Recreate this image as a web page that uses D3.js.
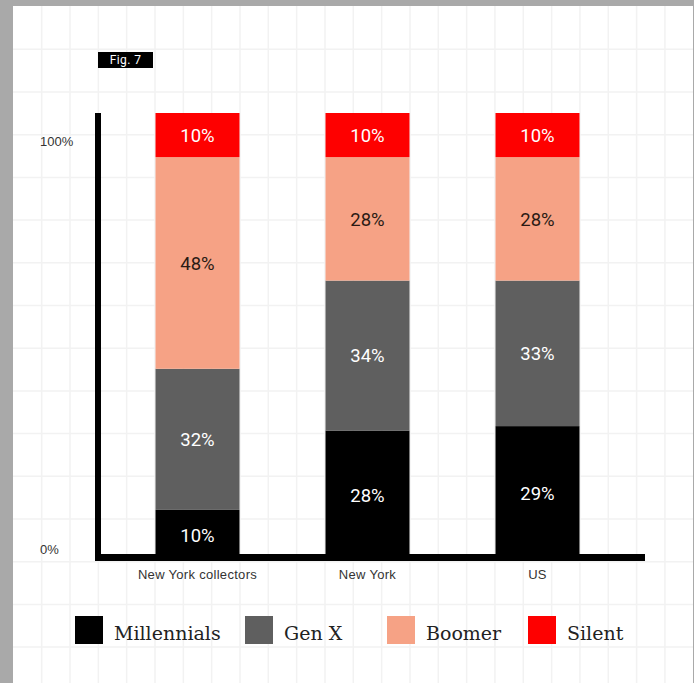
<!DOCTYPE html>
<html><head><meta charset="utf-8">
<script src="https://cdn.jsdelivr.net/npm/d3@7"></script>
<style>html,body{margin:0;padding:0;background:#a9a9a9;}svg{display:block;}</style>
</head><body>
<script>
// ---- data ----
const categories = ["New York collectors", "New York", "US"];
const seriesNames = ["Millennials", "Gen X", "Boomer", "Silent"];
const millennials = [10, 28, 29];
const genX = [32, 34, 33];
const boomer = [48, 28, 28];
const silent = [10, 10, 10];
const yTickLabels = ["0%", "100%"];
const figLabel = "Fig. 7";

// ---- style ----
const colors = ["#000000", "#5f5f5f", "#f6a285", "#fe0000"];
const labelColors = ["#ffffff", "#ffffff", "#2a1a14", "#ffffff"];
const W = 694, H = 683;

const svg = d3.select("body").append("svg").attr("width", W).attr("height", H);
svg.append("rect").attr("x", 0).attr("y", 0).attr("width", W).attr("height", H).attr("fill", "#a9a9a9");
svg.append("rect").attr("x", 13).attr("y", 6).attr("width", 680).attr("height", 677).attr("fill", "#ffffff");

// grid
const grid = svg.append("g").attr("stroke", "#f2f2f2").attr("stroke-width", 1.5);
for (let x = 13.35 + 28.33; x < 693; x += 28.33) grid.append("line").attr("x1", x).attr("x2", x).attr("y1", 6).attr("y2", 683);
for (let y = 6.6 + 42.7; y < 683; y += 42.7) grid.append("line").attr("x1", 13).attr("x2", 693).attr("y1", y).attr("y2", y);

// scales
const y = d3.scaleLinear().domain([0, 100]).range([554, 113]);
const x = d3.scalePoint().domain(categories).range([197.5, 537.5]);
const barW = 84;

const table = categories.map((c, i) => ({cat: c, Millennials: millennials[i], "Gen X": genX[i], Boomer: boomer[i], Silent: silent[i]}));
const stacked = d3.stack().keys(seriesNames)(table);

const g = svg.append("g");
stacked.forEach((layer, si) => {
  layer.forEach(d => {
    g.append("rect")
      .attr("x", x(d.data.cat) - barW / 2)
      .attr("y", y(d[1]))
      .attr("width", barW)
      .attr("height", y(d[0]) - y(d[1]))
      .attr("fill", colors[si]);
    g.append("text")
      .attr("x", x(d.data.cat))
      .attr("y", (y(d[0]) + y(d[1])) / 2 + (si === 0 ? 3 : 0))
      .attr("dy", "0.36em")
      .attr("text-anchor", "middle")
      .attr("font-family", "Roboto, 'Liberation Sans', Arial, sans-serif")
      .attr("font-size", 18.5)
      .attr("fill", labelColors[si])
      .text((d[1] - d[0]) + "%");
  });
});

// axes (thick black lines)
svg.append("rect").attr("x", 95).attr("y", 113).attr("width", 6).attr("height", 561 - 113).attr("fill", "#000");
svg.append("rect").attr("x", 95).attr("y", 554).attr("width", 645 - 95).attr("height", 7).attr("fill", "#000");

// y labels
const yLabelPos = [549, 141];
yTickLabels.forEach((t, i) => {
  svg.append("text").attr("x", 40).attr("y", yLabelPos[i]).attr("dy", "0.35em")
    .attr("font-family", "'Liberation Sans', Arial, sans-serif").attr("font-size", 13)
    .attr("fill", "#333").text(t);
});

// x labels
categories.forEach(c => {
  svg.append("text").attr("x", x(c)).attr("y", 574).attr("dy", "0.35em")
    .attr("text-anchor", "middle")
    .attr("font-family", "'Liberation Sans', Arial, sans-serif").attr("font-size", 13)
    .attr("letter-spacing", 0.3)
    .attr("fill", "#333").text(c);
});

// fig label
svg.append("rect").attr("x", 98).attr("y", 52).attr("width", 55).attr("height", 16).attr("fill", "#000");
svg.append("text").attr("x", 125.5).attr("y", 60).attr("dy", "0.35em").attr("text-anchor", "middle")
  .attr("font-family", "Roboto, 'Liberation Sans', Arial, sans-serif").attr("font-size", 12)
  .attr("letter-spacing", 0.4)
  .attr("fill", "#fff").text(figLabel);

// legend
const legendX = [75, 245, 387, 528];
const leg = svg.append("g");
seriesNames.forEach((s, i) => {
  leg.append("rect").attr("x", legendX[i]).attr("y", 616).attr("width", 28).attr("height", 28).attr("fill", colors[i]);
  leg.append("text").attr("x", legendX[i] + 39).attr("y", 640)
    .attr("font-family", "'DejaVu Serif', serif").attr("font-size", 19)
    .attr("fill", "#222").text(s);
});
</script>
</body></html>
